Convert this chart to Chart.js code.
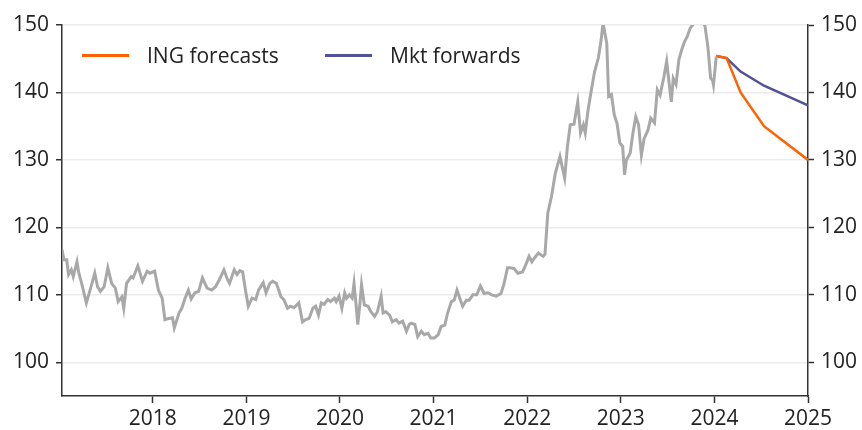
<!DOCTYPE html>
<html>
<head>
<meta charset="utf-8">
<script src="https://cdn.jsdelivr.net/npm/chart.js@4"></script>
<style>
  body { margin: 0; background: #fff; }
  #wrap { position: relative; width: 862px; height: 430px; }
  .legend { position: absolute; top: 41px; font: 21px "Open Sans", sans-serif; color: #222; line-height: 28px; }
  .legend span.swatch { position: absolute; top: 13px; width: 47px; height: 3px; }
</style>
</head>
<body>
<div id="wrap">
  <canvas id="chart" width="862" height="430"></canvas>
  <div class="legend" style="left:82px"><span class="swatch" style="left:0;background:#ff6200"></span><span style="margin-left:65px">ING forecasts</span></div>
  <div class="legend" style="left:325px"><span class="swatch" style="left:0;background:#525199"></span><span style="margin-left:65px">Mkt forwards</span></div>
</div>
<script>
// USD/JPY history (decimal years)
const histYears = [
  2017.03, 2017.05, 2017.08, 2017.10, 2017.13, 2017.15, 2017.19, 2017.21, 2017.24, 2017.29,
  2017.33, 2017.38, 2017.41, 2017.44, 2017.48, 2017.52, 2017.56, 2017.60, 2017.63, 2017.67,
  2017.69, 2017.72, 2017.77, 2017.79, 2017.84, 2017.89, 2017.94, 2017.97, 2018.02, 2018.06,
  2018.10, 2018.13, 2018.17, 2018.21, 2018.23, 2018.28, 2018.31, 2018.34, 2018.38, 2018.41,
  2018.45, 2018.49, 2018.53, 2018.58, 2018.63, 2018.67, 2018.71, 2018.76, 2018.80, 2018.82,
  2018.87, 2018.90, 2018.93, 2018.96, 2018.99, 2019.02, 2019.06, 2019.10, 2019.13, 2019.18,
  2019.21, 2019.25, 2019.28, 2019.32, 2019.37, 2019.40, 2019.44, 2019.47, 2019.51, 2019.56,
  2019.60, 2019.63, 2019.67, 2019.71, 2019.74, 2019.77, 2019.80, 2019.83, 2019.87, 2019.90,
  2019.94, 2019.96, 2019.99, 2020.02, 2020.05, 2020.07, 2020.10, 2020.13, 2020.15, 2020.17,
  2020.19, 2020.21, 2020.23, 2020.26, 2020.30, 2020.33, 2020.37, 2020.40, 2020.44, 2020.46,
  2020.49, 2020.53, 2020.56, 2020.60, 2020.63, 2020.67, 2020.71, 2020.74, 2020.76, 2020.80,
  2020.83, 2020.87, 2020.90, 2020.94, 2020.97, 2021.01, 2021.05, 2021.08, 2021.12, 2021.15,
  2021.19, 2021.22, 2021.25, 2021.28, 2021.31, 2021.35, 2021.38, 2021.42, 2021.46, 2021.50,
  2021.54, 2021.58, 2021.62, 2021.67, 2021.72, 2021.75, 2021.79, 2021.82, 2021.86, 2021.90,
  2021.95, 2021.98, 2022.02, 2022.05, 2022.08, 2022.12, 2022.17, 2022.19, 2022.22, 2022.26,
  2022.30, 2022.35, 2022.40, 2022.43, 2022.46, 2022.50, 2022.54, 2022.57, 2022.60, 2022.62,
  2022.65, 2022.68, 2022.72, 2022.76, 2022.79, 2022.81, 2022.85, 2022.87, 2022.90, 2022.93,
  2022.96, 2022.99, 2023.02, 2023.04, 2023.06, 2023.10, 2023.13, 2023.16, 2023.19, 2023.22,
  2023.25, 2023.29, 2023.32, 2023.36, 2023.39, 2023.42, 2023.46, 2023.49, 2023.52, 2023.54,
  2023.56, 2023.59, 2023.62, 2023.65, 2023.68, 2023.71, 2023.74, 2023.80, 2023.84, 2023.87,
  2023.90, 2023.93, 2023.96, 2023.98, 2023.99, 2024.02
];
const histValues = [
  116.7, 115.2, 115.2, 113.0, 113.7, 112.7, 114.9, 113.2, 111.7, 108.8,
  110.7, 113.2, 111.2, 110.5, 111.2, 114.0, 111.7, 111.0, 109.0, 109.7,
  108.0, 111.7, 112.7, 112.5, 114.3, 112.0, 113.5, 113.2, 113.5, 110.7,
  109.5, 106.3, 106.5, 106.6, 105.1, 107.3, 108.0, 109.3, 110.7, 109.4,
  110.3, 110.5, 112.5, 111.0, 110.7, 111.2, 112.2, 113.7, 112.2, 111.7,
  113.7, 113.0, 113.6, 113.4, 110.7, 108.3, 109.5, 109.3, 110.7, 111.8,
  110.3, 111.7, 112.0, 111.7, 109.7, 109.3, 108.0, 108.3, 108.1, 108.8,
  106.0, 106.3, 106.5, 108.0, 108.3, 107.0, 108.8, 108.6, 109.3, 109.0,
  109.5, 109.0, 109.8, 108.0, 110.3, 109.5, 110.0, 109.5, 111.7, 108.8,
  105.6, 108.3, 111.5, 108.5, 108.3, 107.5, 106.8, 107.5, 109.8, 107.3,
  107.5, 107.0, 106.0, 106.3, 105.8, 106.1, 104.6, 105.6, 105.8, 105.6,
  103.8, 104.6, 104.1, 104.3, 103.6, 103.6, 104.1, 105.3, 105.5, 107.3,
  109.0, 109.2, 110.7, 109.5, 108.3, 109.2, 109.2, 110.0, 110.0, 111.3,
  110.2, 110.3, 110.0, 109.8, 110.2, 111.5, 114.0, 114.0, 113.9, 113.2,
  113.4, 114.3, 115.7, 114.9, 115.5, 116.2, 115.7, 116.0, 122.1, 124.6,
  128.0, 130.5, 127.3, 132.0, 135.2, 135.3, 138.6, 134.0, 135.2, 134.0,
  137.4, 139.9, 143.1, 145.1, 147.8, 150.3, 147.3, 139.4, 139.7, 136.7,
  135.4, 132.5, 132.0, 127.8, 130.0, 131.0, 134.0, 136.4, 135.2, 130.7,
  133.2, 134.4, 136.2, 135.5, 140.4, 139.6, 142.3, 144.6, 140.9, 138.6,
  142.1, 141.2, 144.8, 146.3, 147.5, 148.3, 149.5, 150.6, 150.3, 150.7,
  149.8, 146.8, 142.1, 141.8, 141.1, 145.3
];

// forecast path
const fcYears = [2024.02, 2024.13, 2024.28, 2024.53, 2025.0];
const ingForecasts = [145.4, 145.1, 140.0, 135.0, 130.0];
const mktForwards = [145.4, 145.1, 143.1, 141.0, 138.1];

const yearTicks = [2018, 2019, 2020, 2021, 2022, 2023, 2024, 2025];
const valueTicks = [100, 110, 120, 130, 140, 150];

const toPoints = (xs, ys) => xs.map((x, i) => ({ x: x, y: ys[i] }));

const font = { family: "'Open Sans', sans-serif", size: 21 };
const axisColor = "#333333";

const setTicks = (list) => (scale) => {
  scale.ticks = list.map((v) => ({ value: v }));
};

new Chart(document.getElementById("chart"), {
  type: "line",
  data: {
    datasets: [
      {
        label: "USD/JPY",
        data: toPoints(histYears, histValues),
        borderColor: "#a8a8a8",
        borderWidth: 3,
        pointRadius: 0,
        yAxisID: "y",
      },
      {
        label: "ING forecasts",
        data: toPoints(fcYears, ingForecasts),
        borderColor: "#ff6200",
        borderWidth: 2.5,
        pointRadius: 0,
        yAxisID: "y",
      },
      {
        label: "Mkt forwards",
        data: toPoints(fcYears, mktForwards),
        borderColor: "#525199",
        borderWidth: 2.5,
        pointRadius: 0,
        yAxisID: "y",
      },
    ],
  },
  options: {
    responsive: false,
    animation: false,
    layout: { padding: { top: 25, left: 0, right: 0, bottom: 0 } },
    plugins: {
      legend: { display: false },
      tooltip: { enabled: false },
    },
    scales: {
      x: {
        type: "linear",
        min: 2017.03,
        max: 2025.0,
        afterBuildTicks: setTicks(yearTicks),
        afterFit: (scale) => { scale.height = 34; },
        border: { color: axisColor, width: 1.5 },
        grid: { drawOnChartArea: false, tickLength: 7, tickColor: axisColor, tickWidth: 1.5 },
        ticks: { color: "#222", font: font, padding: 3, maxRotation: 0, callback: (v) => String(v) },
      },
      y: {
        position: "left",
        min: 95,
        max: 150,
        afterBuildTicks: setTicks(valueTicks),
        afterFit: (scale) => { scale.width = 62; },
        border: { color: axisColor, width: 1.5 },
        grid: { color: "#ececec", lineWidth: 1.5, tickLength: 6, tickColor: axisColor, tickWidth: 1.5 },
        ticks: { color: "#222", font: font, padding: 7 },
      },
      y2: {
        position: "right",
        min: 95,
        max: 150,
        afterBuildTicks: setTicks(valueTicks),
        afterFit: (scale) => { scale.width = 54; },
        border: { color: axisColor, width: 1.5 },
        grid: { drawOnChartArea: false, tickLength: 6, tickColor: axisColor, tickWidth: 1.5 },
        ticks: { color: "#222", font: font, padding: 7 },
      },
    },
  },
});
</script>
</body>
</html>
